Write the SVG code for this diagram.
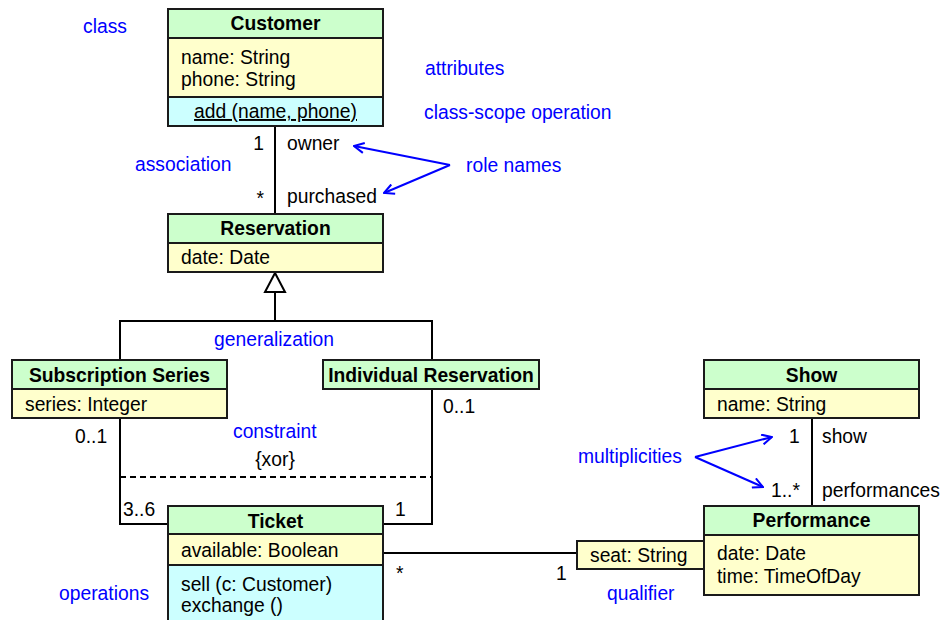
<svg xmlns="http://www.w3.org/2000/svg" width="943" height="620" viewBox="0 0 943 620">
  <style>
    text { font-family: "Liberation Sans", Arial, sans-serif; font-size: 19.3px; fill: #000; }
    .title { font-weight: bold; text-anchor: middle; }
    .note { fill: #0000ff; }
    .mid { text-anchor: middle; }
    .end { text-anchor: end; }
    .hdr { fill: #ccffcc; stroke: #1a1a1a; stroke-width: 2; }
    .att { fill: #ffffcc; stroke: #1a1a1a; stroke-width: 2; }
    .ops { fill: #ccffff; stroke: #1a1a1a; stroke-width: 2; }
    .line { fill: none; stroke: #000; stroke-width: 2; }
    .dash { fill: none; stroke: #000; stroke-width: 2; stroke-dasharray: 6 4; }
    .pointer { fill: none; stroke: #0000ff; stroke-width: 2; marker-end: url(#vee); }
  </style>
  <defs>
    <marker id="vee" viewBox="0 0 12 12" refX="11" refY="6" markerWidth="12" markerHeight="12" markerUnits="userSpaceOnUse" orient="auto">
      <path d="M1,1 L11,6 L1,11" fill="none" stroke="#0000ff" stroke-width="2"/>
    </marker>
  </defs>
  <rect width="943" height="620" fill="#fff"/>

  <!-- connectors -->
  <g id="connectors">
    <line class="line" x1="275" y1="126" x2="275" y2="214"/>
    <line class="line" x1="275" y1="292" x2="275" y2="321"/>
    <polyline class="line" points="120,360 120,321 432,321 432,360"/>
    <polygon points="275,273 265,292 285,292" fill="#fff" stroke="#000" stroke-width="2"/>
    <polyline class="line" points="120,418 120,524 168,524"/>
    <polyline class="line" points="432,389 432,524 383,524"/>
    <line class="dash" x1="120" y1="477" x2="432" y2="477"/>
    <line class="line" x1="383" y1="553" x2="577" y2="553"/>
    <line class="line" x1="812" y1="418" x2="812" y2="506"/>
    <line class="pointer" x1="450" y1="165" x2="354" y2="146"/>
    <line class="pointer" x1="450" y1="165" x2="384" y2="193"/>
    <line class="pointer" x1="695" y1="457" x2="772" y2="437"/>
    <line class="pointer" x1="695" y1="457" x2="763" y2="487"/>

    <!-- multiplicities and role names -->
    <text class="end" x="264" y="150">1</text>
    <text x="287" y="150">owner</text>
    <text class="end" x="264" y="205">*</text>
    <text x="287" y="203">purchased</text>
    <text x="75" y="443">0..1</text>
    <text x="123" y="516">3..6</text>
    <text x="443" y="413">0..1</text>
    <text x="395" y="516">1</text>
    <text class="mid" x="275" y="466">{xor}</text>
    <text x="396" y="580">*</text>
    <text x="556" y="580">1</text>
    <text x="789" y="443">1</text>
    <text x="822" y="443">show</text>
    <text x="771" y="497">1..*</text>
    <text x="822" y="497">performances</text>
  </g>

  <!-- annotations -->
  <g id="notes">
    <text class="note" x="83" y="33">class</text>
    <text class="note" x="425" y="75">attributes</text>
    <text class="note" x="424" y="119">class-scope operation</text>
    <text class="note" x="135" y="171">association</text>
    <text class="note" x="466" y="172">role names</text>
    <text class="note" x="214" y="346">generalization</text>
    <text class="note" x="233" y="438">constraint</text>
    <text class="note" x="578" y="463">multiplicities</text>
    <text class="note" x="59" y="600">operations</text>
    <text class="note" x="607" y="600">qualifier</text>
  </g>

  <g id="customer">
    <rect class="hdr" x="168" y="9" width="215" height="29"/>
    <rect class="att" x="168" y="38" width="215" height="59"/>
    <rect class="ops" x="168" y="97" width="215" height="29"/>
    <text class="title" x="275.5" y="30">Customer</text>
    <text x="181" y="64">name: String</text>
    <text x="181" y="86">phone: String</text>
    <text class="mid" x="275.5" y="118" text-decoration="underline">add (name, phone)</text>
  </g>

  <g id="reservation">
    <rect class="hdr" x="168" y="214" width="215" height="29"/>
    <rect class="att" x="168" y="243" width="215" height="29"/>
    <text class="title" x="275.5" y="235">Reservation</text>
    <text x="181" y="264">date: Date</text>
  </g>

  <g id="subscription-series">
    <rect class="hdr" x="12" y="360" width="215" height="29"/>
    <rect class="att" x="12" y="389" width="215" height="29"/>
    <text class="title" x="119.5" y="382">Subscription Series</text>
    <text x="25" y="411">series: Integer</text>
  </g>

  <g id="individual-reservation">
    <rect class="hdr" x="323" y="360" width="216" height="29"/>
    <text class="title" x="431" y="382">Individual Reservation</text>
  </g>

  <g id="ticket">
    <rect class="hdr" x="168" y="506" width="215" height="28"/>
    <rect class="att" x="168" y="534" width="215" height="31"/>
    <rect class="ops" x="168" y="565" width="215" height="62"/>
    <text class="title" x="275.5" y="528">Ticket</text>
    <text x="181" y="557">available: Boolean</text>
    <text x="181" y="591">sell (c: Customer)</text>
    <text x="181" y="612">exchange ()</text>
  </g>

  <g id="show">
    <rect class="hdr" x="704" y="360" width="215" height="29"/>
    <rect class="att" x="704" y="389" width="215" height="29"/>
    <text class="title" x="811.5" y="382">Show</text>
    <text x="717" y="411">name: String</text>
  </g>

  <g id="performance">
    <rect class="hdr" x="704" y="506" width="215" height="29"/>
    <rect class="att" x="704" y="535" width="215" height="60"/>
    <text class="title" x="811.5" y="527">Performance</text>
    <text x="717" y="560">date: Date</text>
    <text x="717" y="583">time: TimeOfDay</text>
  </g>

  <g id="qualifier">
    <rect class="att" x="577" y="541" width="127" height="28"/>
    <text x="590" y="562">seat: String</text>
  </g>
</svg>
